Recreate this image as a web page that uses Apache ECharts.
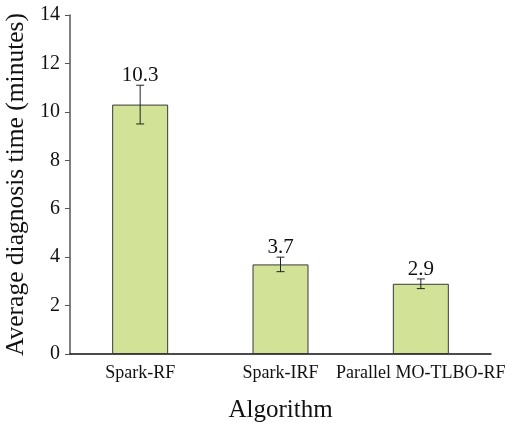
<!DOCTYPE html>
<html>
<head>
<meta charset="utf-8">
<script src="https://cdn.jsdelivr.net/npm/echarts@6/dist/echarts.min.js"></script>
<style>
  html, body { margin: 0; padding: 0; background: #fff; }
  #chart { width: 508px; height: 423px; }
</style>
</head>
<body>
<div id="chart"></div>
<script>
const categories = ['Spark-RF', 'Spark-IRF', 'Parallel MO-TLBO-RF'];
const meanTime = [10.3, 3.7, 2.9];
const errTime = [0.8, 0.3, 0.2];
const yTicks = [0, 2, 4, 6, 8, 10, 12, 14];

const font = 'Liberation Serif, Times New Roman, serif';
const chart = echarts.init(document.getElementById('chart'));

const errData = categories.map((c, i) => [i, meanTime[i], errTime[i]]);

const option = {
  animation: false,
  grid: { left: 70, top: 15, right: 17, bottom: 69, containLabel: false, outerBoundsMode: 'none' },
  xAxis: {
    type: 'category',
    data: categories,
    name: 'Algorithm',
    nameLocation: 'middle',
    nameGap: 44,
    nameTextStyle: { fontFamily: font, fontSize: 25, color: '#111' },
    axisLine: { lineStyle: { color: '#111', width: 1.5 } },
    axisTick: { alignWithLabel: true, length: 5, lineStyle: { color: '#111' } },
    axisLabel: { fontFamily: font, fontSize: 18, color: '#111', margin: 10, interval: 0, hideOverlap: false },
    axisPointer: { show: false }
  },
  yAxis: {
    type: 'value',
    min: yTicks[0],
    max: yTicks[yTicks.length - 1],
    interval: 2,
    name: 'Average diagnosis time (minutes)',
    nameLocation: 'middle',
    nameGap: 31,
    nameTextStyle: { fontFamily: font, fontSize: 25.5, color: '#111' },
    axisLine: { show: true, lineStyle: { color: '#555', width: 1.5 } },
    axisTick: { show: true, length: 5, lineStyle: { color: '#555' } },
    axisLabel: { fontFamily: font, fontSize: 20, color: '#111', margin: 10 },
    splitLine: { show: false }
  },
  series: [
    {
      type: 'bar',
      data: meanTime,
      barWidth: 56,
      itemStyle: { color: '#d2e296', borderColor: '#3a3a3a', borderWidth: 1 }
    },
    {
      type: 'custom',
      data: errData,
      z: 10,
      renderItem: function (params, api) {
        const x = api.value(0);
        const m = api.value(1);
        const e = api.value(2);
        const hi = api.coord([x, m + e]);
        const lo = api.coord([x, m - e]);
        const cap = 4;
        const style = { stroke: '#222', lineWidth: 1 };
        return {
          type: 'group',
          children: [
            { type: 'line', shape: { x1: hi[0], y1: hi[1], x2: lo[0], y2: lo[1] }, style: style },
            { type: 'line', shape: { x1: hi[0] - cap, y1: hi[1], x2: hi[0] + cap, y2: hi[1] }, style: style },
            { type: 'line', shape: { x1: lo[0] - cap, y1: lo[1], x2: lo[0] + cap, y2: lo[1] }, style: style },
            {
              type: 'text',
              x: hi[0],
              y: hi[1] + 1,
              style: {
                text: String(m),
                fontFamily: font,
                fontSize: 21,
                fill: '#111',
                align: 'center',
                verticalAlign: 'bottom'
              }
            }
          ]
        };
      }
    }
  ]
};

chart.setOption(option);
window.addEventListener('resize', () => chart.resize());
</script>
</body>
</html>
